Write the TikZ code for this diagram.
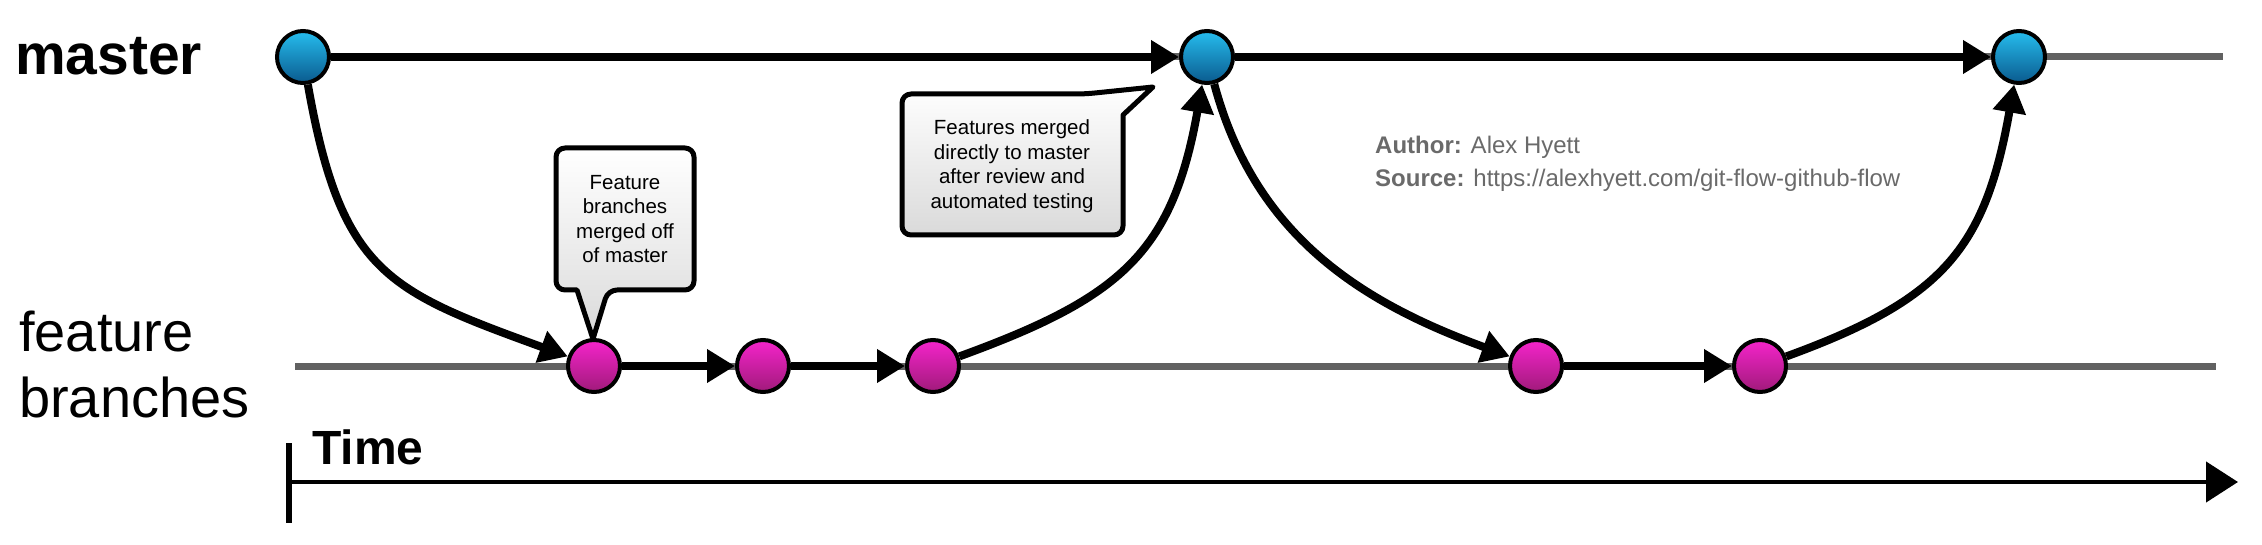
\documentclass[tikz,border=0pt]{standalone}
\usepackage{fontspec}
\setmainfont{Liberation Sans}
\usetikzlibrary{arrows.meta}
\definecolor{railGray}{HTML}{616161}
\definecolor{blueTop}{HTML}{26BDEE}
\definecolor{blueBot}{HTML}{0A5A8E}
\definecolor{pinkTop}{HTML}{F524CB}
\definecolor{pinkBot}{HTML}{A01A7A}
\definecolor{calloutBot}{HTML}{DADADA}
\definecolor{creditGray}{HTML}{6A6A6A}
\begin{document}
\begin{tikzpicture}[x=1pt,y=1pt,
  commit/.style={circle, draw=black, line width=4pt, minimum size=52pt, inner sep=0pt},
  mcommit/.style={commit, top color=blueTop, bottom color=blueBot},
  fcommit/.style={commit, top color=pinkTop, bottom color=pinkBot},
  flow/.style={line width=8pt, -{Triangle[length=28pt,width=32pt]}},
  rail/.style={line width=7pt, draw=railGray},
  callout/.style={draw=black, line width=5pt, line join=round, top color=white, bottom color=calloutBot},
  calltext/.style={align=center, inner sep=0pt, font=\fontsize{20.5}{24.5}\selectfont},
  biglabel/.style={anchor=base west, inner sep=0pt, font=\fontsize{56}{65}\selectfont},
  credit/.style={anchor=base west, inner sep=0pt, text=creditGray, font=\fontsize{24}{30}\selectfont},
  timeaxis/.style={line width=4.5pt, -{Triangle[length=32pt,width=40pt]}}]
\useasboundingbox (0,0) rectangle (2262,-545);

% labels
\node[biglabel, font=\fontsize{57}{65}\selectfont\bfseries] (lmaster) at (15,-75) {master};
\node[biglabel] (lfeat1) at (19,-352) {feature};
\node[biglabel] (lfeat2) at (19,-417) {branches};
\node[biglabel, font=\fontsize{48}{55}\selectfont\bfseries] (ltime) at (312,-464) {Time};
\node[credit] (author) at (1375,-154) {\textbf{Author:} Alex Hyett};
\node[credit] (source) at (1375,-187) {\textbf{Source:} https://alexhyett.com/git-flow-github-flow};

% rails
\coordinate (mr0) at (303,-57);
\coordinate (mr1) at (2223,-57);
\coordinate (fr0) at (295,-366);
\coordinate (fr1) at (2216,-366);
\draw[rail] (mr0) -- (mr1);
\draw[rail] (fr0) -- (fr1);

% commits
\node[mcommit] (m1) at (303,-57) {};
\node[mcommit] (m2) at (1207,-57) {};
\node[mcommit] (m3) at (2019,-57) {};
\node[fcommit] (p1) at (594,-366) {};
\node[fcommit] (p2) at (763,-366) {};
\node[fcommit] (p3) at (933,-366) {};
\node[fcommit] (p4) at (1536,-366) {};
\node[fcommit] (p5) at (1760,-366) {};

% flows
\draw[flow] (m1) -- (m2);
\draw[flow] (m2) -- (m3);
\draw[flow] (p1) -- (p2);
\draw[flow] (p2) -- (p3);
\draw[flow] (p4) -- (p5);
\draw[flow] (m1) to[out=-80, in=160, looseness=1.3] (p1);
\draw[flow] (p3) to[out=20, in=-100, looseness=1.2] (m2);
\draw[flow] (m2) to[out=-75, in=160, looseness=1.0] (p4);
\draw[flow] (p5) to[out=20, in=-100, looseness=1.2] (m3);

% callouts
\draw[callout] (608,-290) -- (593,-339) -- (577,-290) [rounded corners=9pt]
  -- (556,-290) -- (556,-148) -- (694,-148) -- (694,-290) -- cycle;
\node[calltext] (c1) at (625,-219) {Feature\\branches\\merged off\\of master};

\draw[callout] (1085,-94) -- (1153,-87) -- (1123,-115) [rounded corners=9pt]
  -- (1123,-235) -- (902,-235) -- (902,-94) -- cycle;
\node[calltext] (c2) at (1012,-166) {Features merged\\directly to master\\after review and\\automated testing};

% time axis
\coordinate (t0) at (289,-482);
\coordinate (t1) at (2238,-482);
\coordinate (tk0) at (289,-443);
\coordinate (tk1) at (289,-523);
\draw[line width=6.5pt] (tk0) -- (tk1);
\draw[timeaxis] (t0) -- (t1);
\end{tikzpicture}
\end{document}
